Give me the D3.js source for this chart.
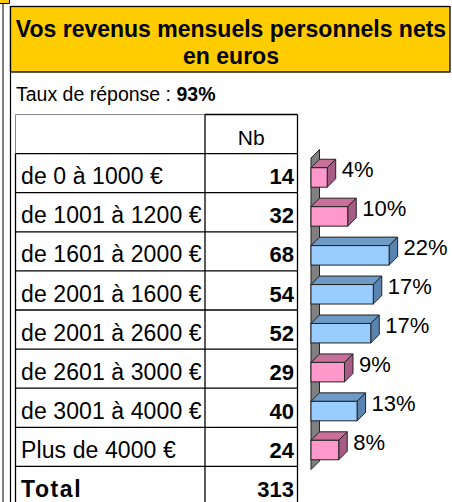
<!DOCTYPE html>
<html><head><meta charset="utf-8">
<script src="https://cdn.jsdelivr.net/npm/d3@7"></script>
<style>body{margin:0;background:#fff}svg{display:block;font-family:"Liberation Sans",Arial,sans-serif}</style>
</head><body><svg id="c" width="452" height="502"></svg>
<script>
const titleLines = ["Vos revenus mensuels personnels nets", "en euros"];
const subtitle = "Taux de réponse : ";
const responseRate = "93%";
const categories = ["de 0 à 1000 €","de 1001 à 1200 €","de 1601 à 2000 €","de 2001 à 1600 €","de 2001 à 2600 €","de 2601 à 3000 €","de 3001 à 4000 €","Plus de 4000 €"];
const counts = [14,32,68,54,52,29,40,24];
const totalLabel = "Total";
const total = 313;
const shares = [4.5,10.2,21.7,17.3,16.6,9.3,12.8,7.7];
const shareLabels = ["4%","10%","22%","17%","17%","9%","13%","8%"];
const barGroups = ["pink","pink","blue","blue","blue","pink","blue","pink"];

const svg = d3.select("#c");
const palette = {
  pink: {front:"#FF99CC", top:"#C8709A", side:"#A65C84"},
  blue: {front:"#99CCFF", top:"#6E9AC6", side:"#5A84B0"}
};
const yellow = "#FFCC00";

// top-left fragment & frame lines
svg.append("rect").attr("x",0).attr("y",0).attr("width",9.5).attr("height",3.5).attr("fill",yellow);
svg.append("path").attr("d","M0,3.5H9.5V0").attr("fill","none").attr("stroke","#000").attr("stroke-width",1);
svg.append("line").attr("x1",3).attr("x2",3).attr("y1",3.5).attr("y2",502).attr("stroke","#000").attr("stroke-width",1);
svg.append("line").attr("x1",10.5).attr("x2",10.5).attr("y1",6).attr("y2",502).attr("stroke","#000").attr("stroke-width",1.2);

// title box
svg.append("rect").attr("x",10.5).attr("y",6.5).attr("width",439.5).attr("height",65.5)
  .attr("fill",yellow).attr("stroke","#000").attr("stroke-width",1.3);
svg.selectAll("text.title").data(titleLines).join("text").attr("class","title")
  .attr("x",231).attr("y",(d,i)=>36.5+i*27).attr("text-anchor","middle")
  .attr("font-size",23).attr("font-weight","bold").attr("fill","#000").text(d=>d);

// subtitle
const st = svg.append("text").attr("x",16).attr("y",100.5).attr("font-size",19.5).attr("fill","#000");
st.append("tspan").text(subtitle);
st.append("tspan").attr("font-weight","bold").text(responseRate);

// table
const rowKeys = ["__head", ...categories, totalLabel];
const ty = d3.scaleBand().domain(rowKeys).range([114.5, 114.5 + 39.1*rowKeys.length]);
const colX = [15.5, 205, 297.5];
const tbl = svg.append("g");
rowKeys.forEach((k,i)=>{
  const y = ty(k);
  if(i===0){
    tbl.append("line").attr("x1",colX[0]).attr("x2",colX[1]).attr("y1",y).attr("y2",y).attr("stroke","#888").attr("stroke-width",1);
    tbl.append("line").attr("x1",colX[1]).attr("x2",colX[2]).attr("y1",y).attr("y2",y).attr("stroke","#000").attr("stroke-width",1.3);
  } else {
    tbl.append("line").attr("x1",colX[0]).attr("x2",colX[2]).attr("y1",y).attr("y2",y).attr("stroke","#000").attr("stroke-width",1.3);
  }
});
const yTop = ty("__head"), yFirst = ty(categories[0]), yEnd = 502;
tbl.append("line").attr("x1",colX[0]).attr("x2",colX[0]).attr("y1",yTop).attr("y2",yFirst).attr("stroke","#888").attr("stroke-width",1);
tbl.append("line").attr("x1",colX[0]).attr("x2",colX[0]).attr("y1",yFirst).attr("y2",yEnd).attr("stroke","#000").attr("stroke-width",1.3);
[colX[1],colX[2]].forEach(x=>tbl.append("line").attr("x1",x).attr("x2",x).attr("y1",yTop).attr("y2",yEnd).attr("stroke","#000").attr("stroke-width",1.3));

tbl.append("text").attr("x",(colX[1]+colX[2])/2).attr("y",ty("__head")+ty.bandwidth()-8.5)
  .attr("text-anchor","middle").attr("font-size",21).text("Nb");
const bodyRows = categories.map((c,i)=>({label:c, n:counts[i], bold:false}));
bodyRows.push({label:totalLabel, n:total, bold:true});
bodyRows.forEach(r=>{
  const yb = ty(r.label)+ty.bandwidth()-8.5;
  tbl.append("text").attr("x",21).attr("y",yb).attr("font-size",23).attr("letter-spacing",r.bold?1.6:0.1)
    .attr("font-weight",r.bold?"bold":"normal").text(r.label);
  tbl.append("text").attr("x",294).attr("y",yb).attr("text-anchor","end").attr("font-size",22)
    .attr("font-weight","bold").text(r.n);
});

// 3D bar chart
const dx = 8.5, dy = -8.5;
const yb = d3.scaleBand().domain(categories).range([158, 469.5]).paddingInner(0.5).paddingOuter(0.25);
const x = d3.scaleLinear().domain([0, 25]).range([311, 311 + 25*3.6]);
const x0 = x(0);
const wallTop = 158, wallBot = 469.5;
svg.append("path")
  .attr("d",`M${x0},${wallTop}L${x0+dx},${wallTop+dy}L${x0+dx},${wallBot+dy}L${x0},${wallBot}Z`)
  .attr("fill","#808080").attr("stroke","#222").attr("stroke-width",1);

const bars = svg.append("g").selectAll("g").data(categories).join("g");
bars.each(function(c,i){
  const g = d3.select(this);
  const col = palette[barGroups[i]];
  const y = yb(c), h = yb.bandwidth(), x1 = x(shares[i]);
  g.append("path").attr("d",`M${x0},${y}L${x0+dx},${y+dy}L${x1+dx},${y+dy}L${x1},${y}Z`)
    .attr("fill",col.top).attr("stroke","#222").attr("stroke-width",1).attr("stroke-linejoin","round");
  g.append("path").attr("d",`M${x1},${y}L${x1+dx},${y+dy}L${x1+dx},${y+h+dy}L${x1},${y+h}Z`)
    .attr("fill",col.side).attr("stroke","#222").attr("stroke-width",1).attr("stroke-linejoin","round");
  g.append("rect").attr("x",x0).attr("y",y).attr("width",x1-x0).attr("height",h)
    .attr("fill",col.front).attr("stroke","#222").attr("stroke-width",1);
  g.append("text").attr("x",x1+dx+6).attr("y",y+dy+h/2+8).attr("font-size",22)
    .attr("fill","#000").text(shareLabels[i]);
});
</script></body></html>
